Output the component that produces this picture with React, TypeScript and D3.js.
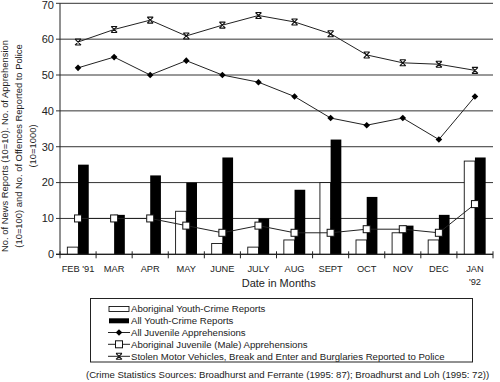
import React from "react";
import * as d3 from "d3";

const months = ["FEB '91", "MAR", "APR", "MAY", "JUNE", "JULY", "AUG", "SEPT", "OCT", "NOV", "DEC", "JAN '92"];
const aboriginalReports = [2, 0, 0, 12, 3, 2, 4, 20, 4, 6, 4, 26];
const allReports = [25, 11, 22, 20, 27, 10, 18, 32, 16, 8, 11, 27];
const juvenileApprehensions = [52, 55, 50, 54, 50, 48, 44, 38, 36, 38, 32, 44];
const aboriginalApprehensions = [10, 10, 10, 8, 6, 8, 6, 6, 7, 7, 6, 14];
const offencesReported = [59.2, 62.7, 65.3, 60.9, 63.9, 66.6, 64.8, 61.5, 55.6, 53.4, 53, 51.3];
const yTicks = [0, 10, 20, 30, 40, 50, 60, 70];
const legendLabels = [
  "Aboriginal Youth-Crime Reports",
  "All Youth-Crime Reports",
  "All Juvenile Apprehensions",
  "Aboriginal Juvenile (Male) Apprehensions",
  "Stolen Motor Vehicles, Break and Enter and Burglaries Reported to Police",
];
const yTitle = [
  "No. of News Reports (10=10). No. of Apprehension",
  "(10=100) and No. of Offences Reported to Police",
  "(10=1000)",
];
const sourceNote = "(Crime Statistics Sources: Broadhurst and Ferrante (1995: 87); Broadhurst and Loh (1995: 72))";
const xTitle = "Date in Months";

const FONT = "'Liberation Sans', Arial, sans-serif";
const TXT = "#222";

const left = 60, right = 493, top = 3.3, bottom = 254.3;

const starPath = "M-3,-3L3,3M3,-3L-3,3M-3,-3H3M-3,3H3";
const diamondPath = "M0,-3.3L3.3,0L0,3.3L-3.3,0Z";

export default function App() {
  const x = d3.scaleBand<string>().domain(months).range([left, right]).padding(0);
  const y = d3.scaleLinear().domain([0, 70]).range([bottom, top]);
  const bw = 10.7;
  const cx = (i: number) => (x(months[i]) as number) + x.bandwidth() / 2;
  const line = d3.line<number>().x((_, i) => cx(i)).y((d) => y(d));

  const legendRowY = [309, 320.8, 332.5, 344.3, 356.3];

  return (
    <svg width={500} height={382} style={{ position: "absolute", left: 0, top: 0, background: "#fff" }} fontFamily={FONT}>
      {/* gridlines */}
      {yTicks.map((t) => (
        <line key={"g" + t} x1={left - 4} x2={right} y1={y(t)} y2={y(t)} stroke="#333" strokeWidth={1} />
      ))}
      {yTicks.map((t) => (
        <text key={"yt" + t} x={left - 6} y={Math.max(y(t), 5)} dy="0.35em" textAnchor="end" fontSize={11} fill={TXT}>
          {t}
        </text>
      ))}
      {/* bars */}
      {aboriginalReports.map((v, i) => (
        <rect key={"w" + i} x={cx(i) - bw} y={y(v)} width={bw} height={bottom - y(v)} fill="#fff" stroke="#111" strokeWidth={0.9} />
      ))}
      {allReports.map((v, i) => (
        <rect key={"b" + i} x={cx(i)} y={y(v)} width={bw} height={bottom - y(v)} fill="#000" />
      ))}
      {/* axes */}
      <line x1={left} x2={left} y1={top} y2={bottom} stroke="#222" strokeWidth={1} />
      <line x1={left - 4} x2={right} y1={bottom} y2={bottom} stroke="#222" strokeWidth={1.2} />
      {d3.range(13).map((k) => {
        const xx = left + k * x.bandwidth();
        return <line key={"xt" + k} x1={xx} x2={xx} y1={bottom - 3} y2={bottom + 4} stroke="#222" strokeWidth={1} />;
      })}
      {/* lines */}
      <path d={line(offencesReported) || ""} fill="none" stroke="#222" strokeWidth={1} />
      <path d={line(juvenileApprehensions) || ""} fill="none" stroke="#222" strokeWidth={1} />
      <path d={line(aboriginalApprehensions) || ""} fill="none" stroke="#222" strokeWidth={1} />
      {offencesReported.map((v, i) => (
        <path key={"s" + i} d={starPath} transform={`translate(${cx(i)},${y(v)})`} stroke="#111" strokeWidth={1.1} fill="none" />
      ))}
      {juvenileApprehensions.map((v, i) => (
        <path key={"d" + i} d={diamondPath} transform={`translate(${cx(i)},${y(v)})`} fill="#000" />
      ))}
      {aboriginalApprehensions.map((v, i) => (
        <rect key={"q" + i} x={cx(i) - 3.5} y={y(v) - 3.5} width={7} height={7} fill="#fff" stroke="#111" strokeWidth={1} />
      ))}
      {/* x labels */}
      {months.map((m, i) => {
        const parts = m === "JAN '92" ? ["JAN", "'92"] : [m];
        return parts.map((p, j) => (
          <text key={"xl" + i + j} x={cx(i)} y={268.5 + j * 13.5} dy="0.35em" textAnchor="middle" fontSize={9.3} fill={TXT}>
            {p}
          </text>
        ));
      })}
      <text x={278.7} y={283.3} dy="0.35em" textAnchor="middle" fontSize={11} fill={TXT}>
        {xTitle}
      </text>
      {/* y title */}
      {yTitle.map((t, i) => (
        <text key={"yti" + i} transform={`translate(${4.5 + i * 14.3},146) rotate(-90)`} dy="0.35em" textAnchor="middle" fontSize={9.4} fill={TXT}>
          {t}
        </text>
      ))}
      {/* legend */}
      <rect x={90.5} y={298.5} width={382} height={63.5} fill="#fff" stroke="#222" strokeWidth={1} />
      {legendLabels.map((l, i) => {
        const ly = legendRowY[i];
        let sym: React.ReactNode = null;
        if (i === 0) sym = <rect x={109} y={ly - 2.5} width={20} height={5} fill="#fff" stroke="#111" strokeWidth={0.9} />;
        else if (i === 1) sym = <rect x={109} y={ly - 2.5} width={20} height={5} fill="#000" />;
        else {
          const marker =
            i === 2 ? (
              <path d={diamondPath} transform={`translate(119,${ly})`} fill="#000" />
            ) : i === 3 ? (
              <rect x={115.5} y={ly - 3.5} width={7} height={7} fill="#fff" stroke="#111" strokeWidth={1} />
            ) : (
              <path d={starPath} transform={`translate(119,${ly})`} stroke="#111" strokeWidth={1.1} fill="none" />
            );
          sym = (
            <g>
              <line x1={108} x2={130} y1={ly} y2={ly} stroke="#222" strokeWidth={1} />
              {marker}
            </g>
          );
        }
        return (
          <g key={"lg" + i}>
            {sym}
            <text x={131} y={ly} dy="0.35em" fontSize={9.6} fill={TXT}>
              {l}
            </text>
          </g>
        );
      })}
      <text x={86} y={375} dy="0.35em" fontSize={9.6} fill={TXT}>
        {sourceNote}
      </text>
    </svg>
  );
}
